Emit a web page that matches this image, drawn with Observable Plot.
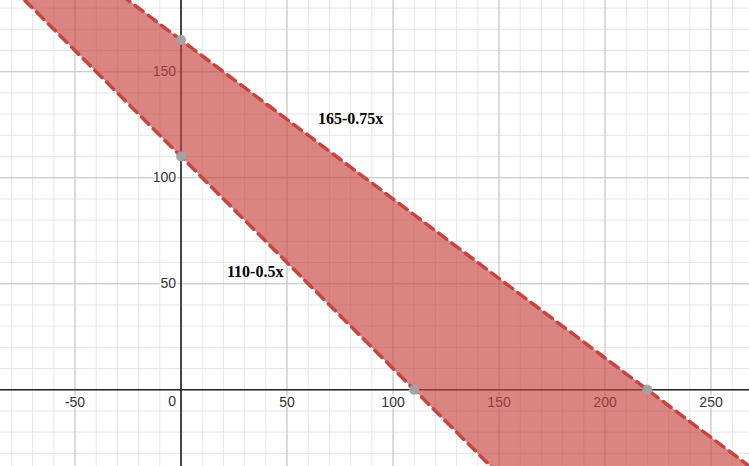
<!DOCTYPE html>
<html>
<head>
<meta charset="utf-8">
<script src="https://cdn.jsdelivr.net/npm/d3@7"></script>
<script src="https://cdn.jsdelivr.net/npm/@observablehq/plot@0.6"></script>
<style>
  html, body { margin: 0; padding: 0; background: #fff; }
  #chart svg { display: block; }
</style>
</head>
<body>
<div id="chart"></div>
<script>
// Boundary lines (intercept, slope) as drawn
const lineNames = ["165-0.75x", "110-0.5x"];
const intercepts = [165, 110];
const slopes = [-0.75, -1];
// Label anchor positions (data units)
const labelX = [80, 35];
const labelY = [128, 55.8];
// Marked intercept points
const pointX = [0, 0, 110, 220];
const pointY = [165, 110, 0, 0];
// Tick labels
const xTicks = [-50, 50, 100, 150, 200, 250];
const originLabel = ["0"];
const yTicks = [50, 100, 150];
// Visible window
const xDomain = [-85.15, 268.15];
const yDomain = [-36.2, 183.6];

const minorX = d3.range(-80, 270, 10);
const minorY = d3.range(-30, 190, 10);
const majorX = d3.range(-50, 270, 50).filter(d => d !== 0);
const majorY = d3.range(50, 190, 50);

const f = (i, x) => intercepts[i] + slopes[i] * x;
const xs = [xDomain[0] - 5, xDomain[1] + 5];
const band = xs.map(x => ({x, lo: f(1, x), hi: f(0, x)}));
const lines = lineNames.map((name, i) => xs.map(x => ({x, y: f(i, x), name}))).flat();
const labels = lineNames.map((name, i) => ({name, x: labelX[i], y: labelY[i]}));
const points = pointX.map((x, i) => ({x, y: pointY[i]}));

const red = "#c74440";
const tickFont = {fontFamily: "Arial, Liberation Sans, sans-serif", fontSize: 14, fill: "#333",
  stroke: "white", strokeWidth: 3, strokeOpacity: 0.8};

const chart = Plot.plot({
  width: 749,
  height: 466,
  marginTop: 0, marginRight: 0, marginBottom: 0, marginLeft: 0,
  x: {domain: xDomain, axis: null},
  y: {domain: yDomain, axis: null},
  style: {background: "#fff"},
  marks: [
    Plot.ruleX(minorX, {stroke: "#e6e6e6", strokeWidth: 1}),
    Plot.ruleY(minorY, {stroke: "#e6e6e6", strokeWidth: 1}),
    Plot.ruleX(majorX, {stroke: "#c4c4c4", strokeWidth: 1}),
    Plot.ruleY(majorY, {stroke: "#c4c4c4", strokeWidth: 1}),
    Plot.ruleX([0], {stroke: "#444", strokeWidth: 2}),
    Plot.ruleY([0], {stroke: "#222", strokeWidth: 1.5}),
    Plot.text(xTicks, {x: d => d, y: () => 0, text: d => String(d), dy: 13, ...tickFont}),
    Plot.text(originLabel, {x: () => 0, y: () => 0, text: d => d, dx: -9, dy: 12, ...tickFont}),
    Plot.text(yTicks, {x: () => 0, y: d => d, text: d => String(d), textAnchor: "end", dx: -5, ...tickFont}),
    Plot.areaY(band, {x: "x", y1: "lo", y2: "hi", fill: red, fillOpacity: 0.65, clip: true}),
    Plot.line(lines, {x: "x", y: "y", z: "name", stroke: red, strokeWidth: 3.5, strokeDasharray: "10,6.5", clip: true}),
    Plot.dot(points, {x: "x", y: "y", r: 5, fill: "#a3a3a3", stroke: null}),
    Plot.text(labels, {
      x: "x", y: "y", text: "name",
      fontFamily: "Liberation Serif, Times New Roman, serif", fontWeight: "bold", fontSize: 16, fill: "#000"
    })
  ]
});
document.getElementById("chart").appendChild(chart);
</script>
</body>
</html>
